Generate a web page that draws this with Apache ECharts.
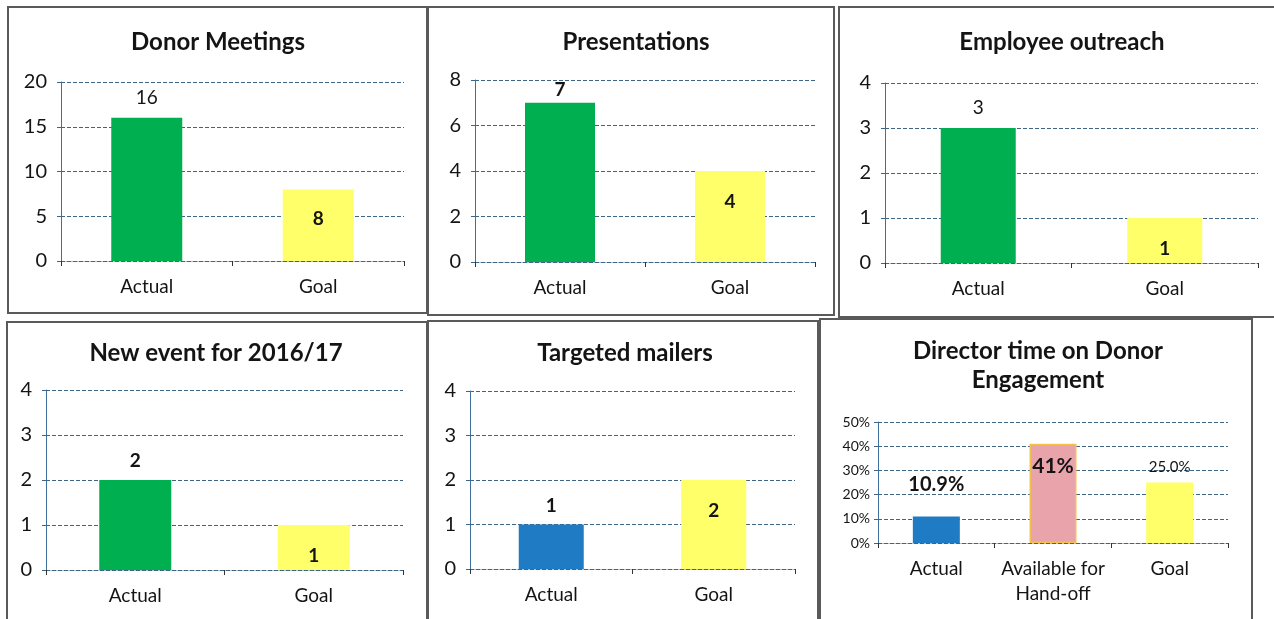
<!DOCTYPE html>
<html>
<head>
<meta charset="utf-8">
<script src="https://cdn.jsdelivr.net/npm/echarts@6/dist/echarts.min.js"></script>
<style>
  html, body { margin: 0; padding: 0; background: #fff; }
  #main { width: 1274px; height: 619px; }
</style>
</head>
<body>
<div id="main"></div>
<script>
// data
var categories = ['Actual', 'Goal'];
var donorMeetings = [16, 8];
var presentations = [7, 4];
var employeeOutreach = [3, 1];
var newEvent = [2, 1];
var targetedMailers = [1, 2];
var directorCategories = ['Actual', 'Available for\nHand-off', 'Goal'];
var directorTime = [10.9, 41, 25];

var GREEN = '#00b050', YELLOW = '#ffff6a', BLUE = '#1f7cc4', PINK = '#e9a3aa';
var FONT = 'Lato, "Open Sans", sans-serif';
var GRIDLINE = '#3f6584';
var INK = '#141414';

function pct1(v) { return v.toFixed(1) + '%'; }
function pct0(v) { return Math.round(v) + '%'; }

var panels = [
    {
        title: 'Donor Meetings', tx: 218, ty: 28,
        cats: categories, values: donorMeetings, max: 20, interval: 5,
        grid: { left: 61, top: 82, width: 343, height: 179 }, barWidth: 71,
        colors: [GREEN, YELLOW],
        labels: [
            { position: 'top', distance: 10, fontWeight: 'normal' },
            { position: 'inside', offset: [0, -6], fontWeight: 'bold' }
        ]
    },
    {
        title: 'Presentations', tx: 636, ty: 28,
        cats: categories, values: presentations, max: 8, interval: 2,
        grid: { left: 475, top: 80, width: 340, height: 182 }, barWidth: 70,
        colors: [GREEN, YELLOW],
        labels: [
            { position: 'top', distance: 3, fontWeight: 'bold' },
            { position: 'inside', offset: [0, -15], fontWeight: 'bold' }
        ]
    },
    {
        title: 'Employee outreach', tx: 1062, ty: 28,
        cats: categories, values: employeeOutreach, max: 4, interval: 1,
        grid: { left: 885, top: 83, width: 373, height: 180 }, barWidth: 75,
        colors: [GREEN, YELLOW],
        labels: [
            { position: 'top', distance: 11, fontWeight: 'normal' },
            { position: 'inside', offset: [0, 8], fontWeight: 'bold' }
        ]
    },
    {
        title: 'New event for 2016/17', tx: 216, ty: 339,
        cats: categories, values: newEvent, max: 4, interval: 1,
        grid: { left: 46, top: 390, width: 357, height: 180 }, barWidth: 72,
        colors: [GREEN, YELLOW],
        labels: [
            { position: 'top', distance: 10, fontWeight: 'bold' },
            { position: 'inside', offset: [0, 8], fontWeight: 'bold' }
        ]
    },
    {
        title: 'Targeted mailers', tx: 625, ty: 339,
        cats: categories, values: targetedMailers, max: 4, interval: 1,
        grid: { left: 470, top: 391, width: 325, height: 178 }, barWidth: 65,
        colors: [BLUE, YELLOW],
        labels: [
            { position: 'top', distance: 9, fontWeight: 'bold' },
            { position: 'inside', offset: [0, -14], fontWeight: 'bold' }
        ]
    },
    {
        title: 'Director time on Donor\nEngagement', tx: 1038, ty: 337,
        cats: directorCategories, values: directorTime, max: 50, interval: 10,
        grid: { left: 878, top: 422, width: 350, height: 121 }, barWidth: 47,
        colors: [BLUE, PINK, YELLOW], percent: true,
        labels: [
            { position: 'top', distance: 22, fontWeight: 'bold', fontSize: 20, fmt: pct1 },
            { position: 'insideTop', distance: 12, fontWeight: 'bold', fontSize: 21, fmt: pct0 },
            { position: 'top', distance: 8, fontWeight: 'normal', fontSize: 15, fmt: pct1 }
        ]
    }
];

// panel frames
var frames = [
    [8, 7, 419, 306], [428, 7, 406, 308], [839, 7, 440, 310],
    [7, 322, 420, 305], [428, 321, 390, 305], [820, 319, 432, 310]
];

var option = {
    animation: false,
    backgroundColor: '#fff',
    textStyle: { fontFamily: FONT },
    title: [], grid: [], xAxis: [], yAxis: [], series: [],
    graphic: frames.map(function (f) {
        return {
            type: 'rect', silent: true, z: -1,
            shape: { x: f[0], y: f[1], width: f[2], height: f[3] },
            style: { fill: 'none', stroke: '#5a5a5a', lineWidth: 2 }
        };
    })
};

panels.forEach(function (p, i) {
    option.title.push({
        text: p.title, left: p.tx, top: p.ty, textAlign: 'center', padding: 0,
        textStyle: { fontFamily: FONT, fontSize: 24, fontWeight: 'bold', color: INK, lineHeight: 29 }
    });
    option.grid.push(p.grid);
    option.xAxis.push({
        type: 'category', gridIndex: i, data: p.cats,
        axisLine: { lineStyle: { color: GRIDLINE, type: 'dashed', width: 1 } },
        axisTick: { show: true, length: 5, lineStyle: { color: '#333' } },
        axisLabel: {
            interval: 0, color: INK, fontFamily: FONT, fontSize: 19, margin: 13, lineHeight: 25
        }
    });
    option.yAxis.push({
        type: 'value', gridIndex: i, min: 0, max: p.max, interval: p.interval,
        axisLine: { show: true, lineStyle: { color: '#3f6f9f', width: 1 } },
        axisTick: { show: true, length: 4, lineStyle: { color: GRIDLINE } },
        splitLine: { lineStyle: { color: GRIDLINE, type: 'dashed', width: 1 } },
        axisLabel: {
            color: INK, fontFamily: FONT,
            fontSize: p.percent ? 14 : 20, margin: p.percent ? 8 : 14,
            formatter: p.percent ? '{value}%' : '{value}'
        }
    });
    option.series.push({
        type: 'bar', xAxisIndex: i, yAxisIndex: i, barWidth: p.barWidth,
        data: p.values.map(function (v, j) {
            var l = p.labels[j];
            var item = {
                value: v,
                itemStyle: { color: p.colors[j] },
                label: {
                    show: true, position: l.position, distance: l.distance,
                    offset: l.offset || [0, 0],
                    fontFamily: FONT, fontSize: l.fontSize || 19, fontWeight: l.fontWeight,
                    color: INK,
                    formatter: l.fmt ? (function (fn, val) { return function () { return fn(val); }; })(l.fmt, v) : '{c}'
                }
            };
            if (p.colors[j] === PINK) {
                item.itemStyle.borderColor = '#f2c14e';
                item.itemStyle.borderWidth = 1.5;
            }
            return item;
        })
    });
});

var chart = echarts.init(document.getElementById('main'));
chart.setOption(option);
window.onresize = chart.resize;
</script>
</body>
</html>
